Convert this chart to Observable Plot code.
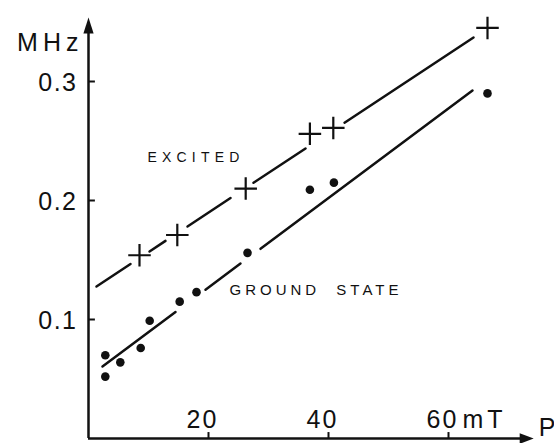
<!DOCTYPE html>
<html>
<head>
<meta charset="utf-8">
<script src="https://cdn.jsdelivr.net/npm/d3@7"></script>
<script src="https://cdn.jsdelivr.net/npm/@observablehq/plot@0.6"></script>
<style>
  html, body { margin: 0; padding: 0; background: #fff; }
  #chart svg { display: block; }
</style>
</head>
<body>
<div id="chart"></div>
<script>
// ---- data ----
// excited state (crosses)
const excitedB = [8.5, 14.8, 26.2, 36.9, 40.8, 66.5];
const excitedF = [0.154, 0.171, 0.210, 0.256, 0.261, 0.345];
// ground state (dots)
const groundB = [2.8, 2.8, 5.3, 8.7, 10.2, 15.2, 18.0, 26.5, 36.9, 40.9, 66.5];
const groundF = [0.070, 0.052, 0.064, 0.076, 0.099, 0.115, 0.123, 0.156, 0.209, 0.215, 0.290];
// fitted lines, drawn as broken segments (gaps around markers)
const exSegB1 = [1.33, 10.17, 16.5, 27.5, 42.67];
const exSegB2 = [7.0, 12.83, 23.67, 36.17, 64.17];
const exSegF1 = [0.1277, 0.1571, 0.1782, 0.2149, 0.2654];
const exSegF2 = [0.1466, 0.1661, 0.2021, 0.2437, 0.337];
const gsSegB1 = [2.33, 19.5, 28.67];
const gsSegB2 = [14.5, 25.33, 64.0];
const gsSegF1 = [0.0605, 0.125, 0.1594];
const gsSegF2 = [0.1063, 0.147, 0.2924];
// axes
const xTicks = [20, 40, 60];
const xTickLabels = ["20", "40", "60"];
const yTicks = [0.1, 0.2, 0.3];
const yTickLabels = ["0.1", "0.2", "0.3"];
const xAxisEnd = 74.2;
const yAxisEnd = 0.3538;

// ---- tables ----
const excited = excitedB.map((b, i) => ({b, f: excitedF[i]}));
const ground = groundB.map((b, i) => ({b, f: groundF[i]}));
const exSegs = exSegB1.map((b, i) => ({b1: b, b2: exSegB2[i], f1: exSegF1[i], f2: exSegF2[i]}));
const gsSegs = gsSegB1.map((b, i) => ({b1: b, b2: gsSegB2[i], f1: gsSegF1[i], f2: gsSegF2[i]}));
const xT = xTicks.map((v, i) => ({v, label: xTickLabels[i]}));
const yT = yTicks.map((v, i) => ({v, label: yTickLabels[i]}));

const ink = "#111";
const arrowUp = {draw(ctx, size) { const r = Math.sqrt(size / Math.PI); ctx.moveTo(0, 0); ctx.lineTo(-0.32 * r, r); ctx.lineTo(0.32 * r, r); ctx.closePath(); }};
const arrowRight = {draw(ctx, size) { const r = Math.sqrt(size / Math.PI); ctx.moveTo(0, 0); ctx.lineTo(-r, -0.38 * r); ctx.lineTo(-r, 0.38 * r); ctx.closePath(); }};

const chart = Plot.plot({
  width: 554,
  height: 443,
  marginLeft: 88,
  marginRight: 46,
  marginTop: 21.5,
  marginBottom: 5,
  x: {domain: [0, 70], axis: null},
  y: {domain: [0, 0.35], axis: null},
  style: {background: "#fff", fontFamily: "'Liberation Sans', Arial, sans-serif", color: ink, overflow: "visible"},
  marks: [
    // axes
    Plot.ruleX([0], {y1: 0, y2: yAxisEnd - 0.01, stroke: ink, strokeWidth: 2.5}),
    Plot.ruleY([0], {x1: 0, x2: xAxisEnd - 1.5, stroke: ink, strokeWidth: 2.5}),
    Plot.dot([{b: 0, f: yAxisEnd}], {x: "b", y: "f", symbol: arrowUp, r: 16, fill: ink, stroke: "none"}),
    Plot.dot([{b: xAxisEnd, f: 0}], {x: "b", y: "f", symbol: arrowRight, r: 14, fill: ink, stroke: "none"}),
    Plot.ruleY(yT, {y: "v", x1: 0, x2: 1.15, stroke: ink, strokeWidth: 2}),
    Plot.ruleX(xT, {x: "v", y1: 0, y2: 0.005, stroke: ink, strokeWidth: 2}),
    Plot.text(yT, {x: 0, y: "v", text: "label", textAnchor: "end", dx: -11, dy: 1, fontSize: 25, fill: ink}),
    Plot.text(xT, {x: "v", y: 0, text: "label", textAnchor: "middle", dx: -6, dy: -19, fontSize: 25, fill: ink}),
    Plot.text(["mT"], {x: 60, y: 0, text: d => d, textAnchor: "start", dx: 14, dy: -19, fontSize: 25, fill: ink}),
    Plot.text(["P"], {x: xAxisEnd, y: 0, text: d => d, textAnchor: "start", dx: 5, dy: -11, fontSize: 25, fill: ink}),
    Plot.text(["MHz"], {x: 0, y: 0.35, text: d => d, textAnchor: "end", dx: -5, dy: 21, fontSize: 25, fill: ink}),
    // labels
    Plot.text(["EXCITED"], {x: 9.83, y: 0.236, text: d => d, textAnchor: "start", fontSize: 14, fill: ink}),
    Plot.text(["GROUND STATE"], {x: 23.5, y: 0.1244, text: d => d, textAnchor: "start", fontSize: 15, fill: ink}),
    // fit lines
    Plot.link(exSegs, {x1: "b1", y1: "f1", x2: "b2", y2: "f2", stroke: ink, strokeWidth: 2.5, strokeLinecap: "round"}),
    Plot.link(gsSegs, {x1: "b1", y1: "f1", x2: "b2", y2: "f2", stroke: ink, strokeWidth: 2.5, strokeLinecap: "round"}),
    // data
    Plot.dot(excited, {x: "b", y: "f", symbol: "plus", r: 7.3, stroke: ink, strokeWidth: 2.2}),
    Plot.dot(ground, {x: "b", y: "f", r: 4.3, fill: ink, stroke: "none"})
  ]
});

const spacing = {"MHz": "5px", "0.1": "1.5px", "0.2": "1.5px", "0.3": "1.5px", "20": "2px", "40": "2px", "60": "2px", "mT": "4px", "EXCITED": "5.2px", "GROUND STATE": "4px"};
d3.select(chart).selectAll("text").each(function() {
  const t = this.textContent;
  if (spacing[t]) this.style.letterSpacing = spacing[t];
  if (t === "GROUND STATE") this.style.wordSpacing = "8px";
});
document.getElementById("chart").appendChild(chart);
</script>
</body>
</html>
